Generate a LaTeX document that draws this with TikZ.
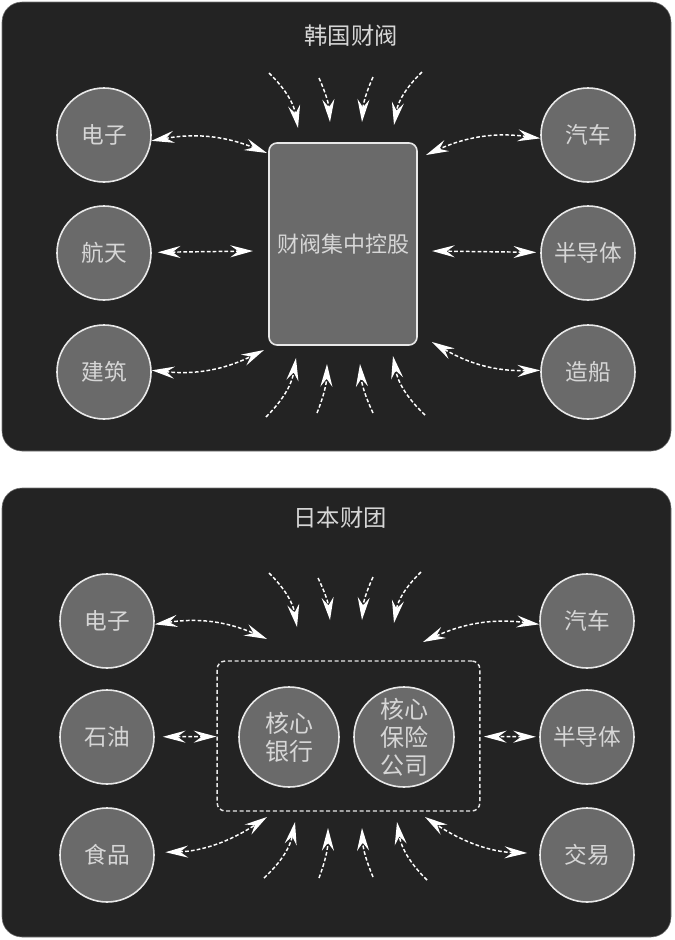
\documentclass[tikz,border=0pt]{standalone}
\usepackage{fontspec}
\setmainfont{Noto Sans CJK SC}
\usetikzlibrary{arrows.meta}
\definecolor{cPanel}{RGB}{35, 35, 35}
\definecolor{cBranch}{RGB}{106, 106, 106}
\definecolor{cRim}{RGB}{232, 232, 232}
\definecolor{cLabel}{RGB}{214, 214, 214}
\colorlet{cFlow}{white}
\colorlet{cEdge}{black!55!white}
\tikzset{
    flowTip/.tip={Stealth[length=17pt,width=9pt,inset=6pt]},
    panelBg/.style={
        fill=cPanel,
        draw=cEdge,
        line width=0.4pt,
        rounded corners=15pt
    },
    titleText/.style={
        text=cLabel,
        font=\fontsize{17.5}{21}\selectfont
    },
    nodeBranch/.style={
        shape=circle,
        fill=cBranch,
        draw=cRim,
        line width=1.2pt,
        minimum size=70.5pt,
        inner sep=0pt,
        text=cLabel,
        font=\fontsize{17}{21}\selectfont
    },
    nodeCore/.style={
        shape=rectangle,
        fill=cBranch,
        draw=cRim,
        line width=1.2pt,
        rounded corners=6pt,
        minimum width=111pt,
        minimum height=151.5pt,
        inner sep=0pt,
        text=cLabel,
        font=\fontsize{16.5}{21}\selectfont
    },
    nodeInner/.style={
        nodeBranch,
        minimum size=75pt,
        align=center,
        font=\fontsize{18}{21}\selectfont
    },
    groupBox/.style={
        shape=rectangle,
        draw=cRim,
        line width=1.1pt,
        dash pattern=on 3pt off 2pt,
        rounded corners=6pt,
        minimum width=197pt,
        minimum height=112.5pt
    },
    edgeLink/.style={
        arrows=flowTip-flowTip,
        draw=cFlow,
        line width=1.1pt,
        dash pattern=on 2.8pt off 1.6pt
    },
    edgeInflow/.style={
        arrows=-flowTip,
        draw=cFlow,
        line width=1.1pt,
        dash pattern=on 2.8pt off 1.6pt
    },
}

\begin{document}
\begin{tikzpicture}[x=0.75pt,y=-0.75pt]
    \useasboundingbox (0,0) rectangle (675,940);

    \pgfdeclarelayer{background}
    \pgfsetlayers{background,main}

    \begin{pgfonlayer}{background}
        \draw[panelBg] (2,2) rectangle (671,451);
        \draw[panelBg] (2,488) rectangle (671,937);
    \end{pgfonlayer}

    % korea
    \node[titleText] (kTitle) at (351,36) {韩国财阀};
    \node[nodeCore] (kCore) at (343,244) {财阀集中控股};

    \node[nodeBranch] (kL1) at (104,135) {电子};
    \node[nodeBranch] (kL2) at (104,253) {航天};
    \node[nodeBranch] (kL3) at (104,372) {建筑};
    \node[nodeBranch] (kR1) at (588,135) {汽车};
    \node[nodeBranch] (kR2) at (588,253) {半导体};
    \node[nodeBranch] (kR3) at (588,372) {造船};

    \coordinate (kc_1) at (267,153);
    \coordinate (kc_2) at (426,155);
    \coordinate (kc_3) at (264,350);
    \coordinate (kc_4) at (432,342);
    \coordinate (kc_w) at (253,251);
    \coordinate (kc_e) at (432,251);

    \draw[edgeLink] (kL1.-7) to[bend left=16] (kc_1);
    \draw[edgeLink] (kR1.184) to[bend right=16] (kc_2);
    \draw[edgeLink] (kL3.2) to[bend right=16] (kc_3);
    \draw[edgeLink] (kR3.178) to[bend left=16] (kc_4);
    \draw[edgeLink,shorten <=4.5pt] (kL2) -- (kc_w);
    \draw[edgeLink,shorten <=3pt] (kR2) -- (kc_e);

    \foreach \i/\sx/\sy/\ex/\ey/\b in {
        1/269/73/298/128/18, 2/319/78/330/122/10, 3/373/77/362/122/-10, 4/422/72/394/125/-18,
        5/266/417/296/358/-18, 6/317/413/327/364/-10, 7/373/413/360/364/10, 8/425/415/393/356/18}
    {
        \coordinate (kin_\i) at (\sx,\sy);
        \coordinate (kto_\i) at (\ex,\ey);
        \draw[edgeInflow] (kin_\i) to[bend left=\b] (kto_\i);
    }

    % japan
    \node[titleText] (jTitle) at (340,518) {日本财团};
    \node[groupBox] (jBox) at (348.5,736) {};
    \node[nodeInner] (jBank) at (289,737) {核心\\银行};
    \node[nodeInner] (jIns) at (404,737) {核心\\保险\\公司};

    \node[nodeBranch] (jL1) at (107,621) {电子};
    \node[nodeBranch] (jL2) at (107,737) {石油};
    \node[nodeBranch] (jL3) at (107,855) {食品};
    \node[nodeBranch] (jR1) at (587,621) {汽车};
    \node[nodeBranch] (jR2) at (587,737) {半导体};
    \node[nodeBranch] (jR3) at (587,855) {交易};

    \coordinate (jc_1) at (267,639);
    \coordinate (jc_2) at (423,642);
    \coordinate (jc_3) at (267,817);
    \coordinate (jc_4) at (425,817);

    \draw[edgeLink] (jL1.-4) to[bend left=16] (jc_1);
    \draw[edgeLink] (jR1.184) to[bend right=16] (jc_2);
    \draw[edgeLink,shorten <=8pt] (jL3.3) to[bend right=16] (jc_3);
    \draw[edgeLink,shorten <=9pt] (jR3.178) to[bend left=16] (jc_4);
    \draw[edgeLink,shorten <=6pt] (jL2) -- (jBox);
    \draw[edgeLink,shorten <=2.5pt,shorten >=2.5pt] (jR2) -- (jBox);

    \foreach \i/\sx/\sy/\ex/\ey/\b in {
        1/269/573/297/627/18, 2/318/578/330/620/10, 3/373/577/362/620/-10, 4/421/572/394/623/-18,
        5/264/878/295/822/-18, 6/319/878/328/828/-10, 7/373/877/362/828/10, 8/427/880/397/822/18}
    {
        \coordinate (jin_\i) at (\sx,\sy);
        \coordinate (jto_\i) at (\ex,\ey);
        \draw[edgeInflow] (jin_\i) to[bend left=\b] (jto_\i);
    }
\end{tikzpicture}
\end{document}
